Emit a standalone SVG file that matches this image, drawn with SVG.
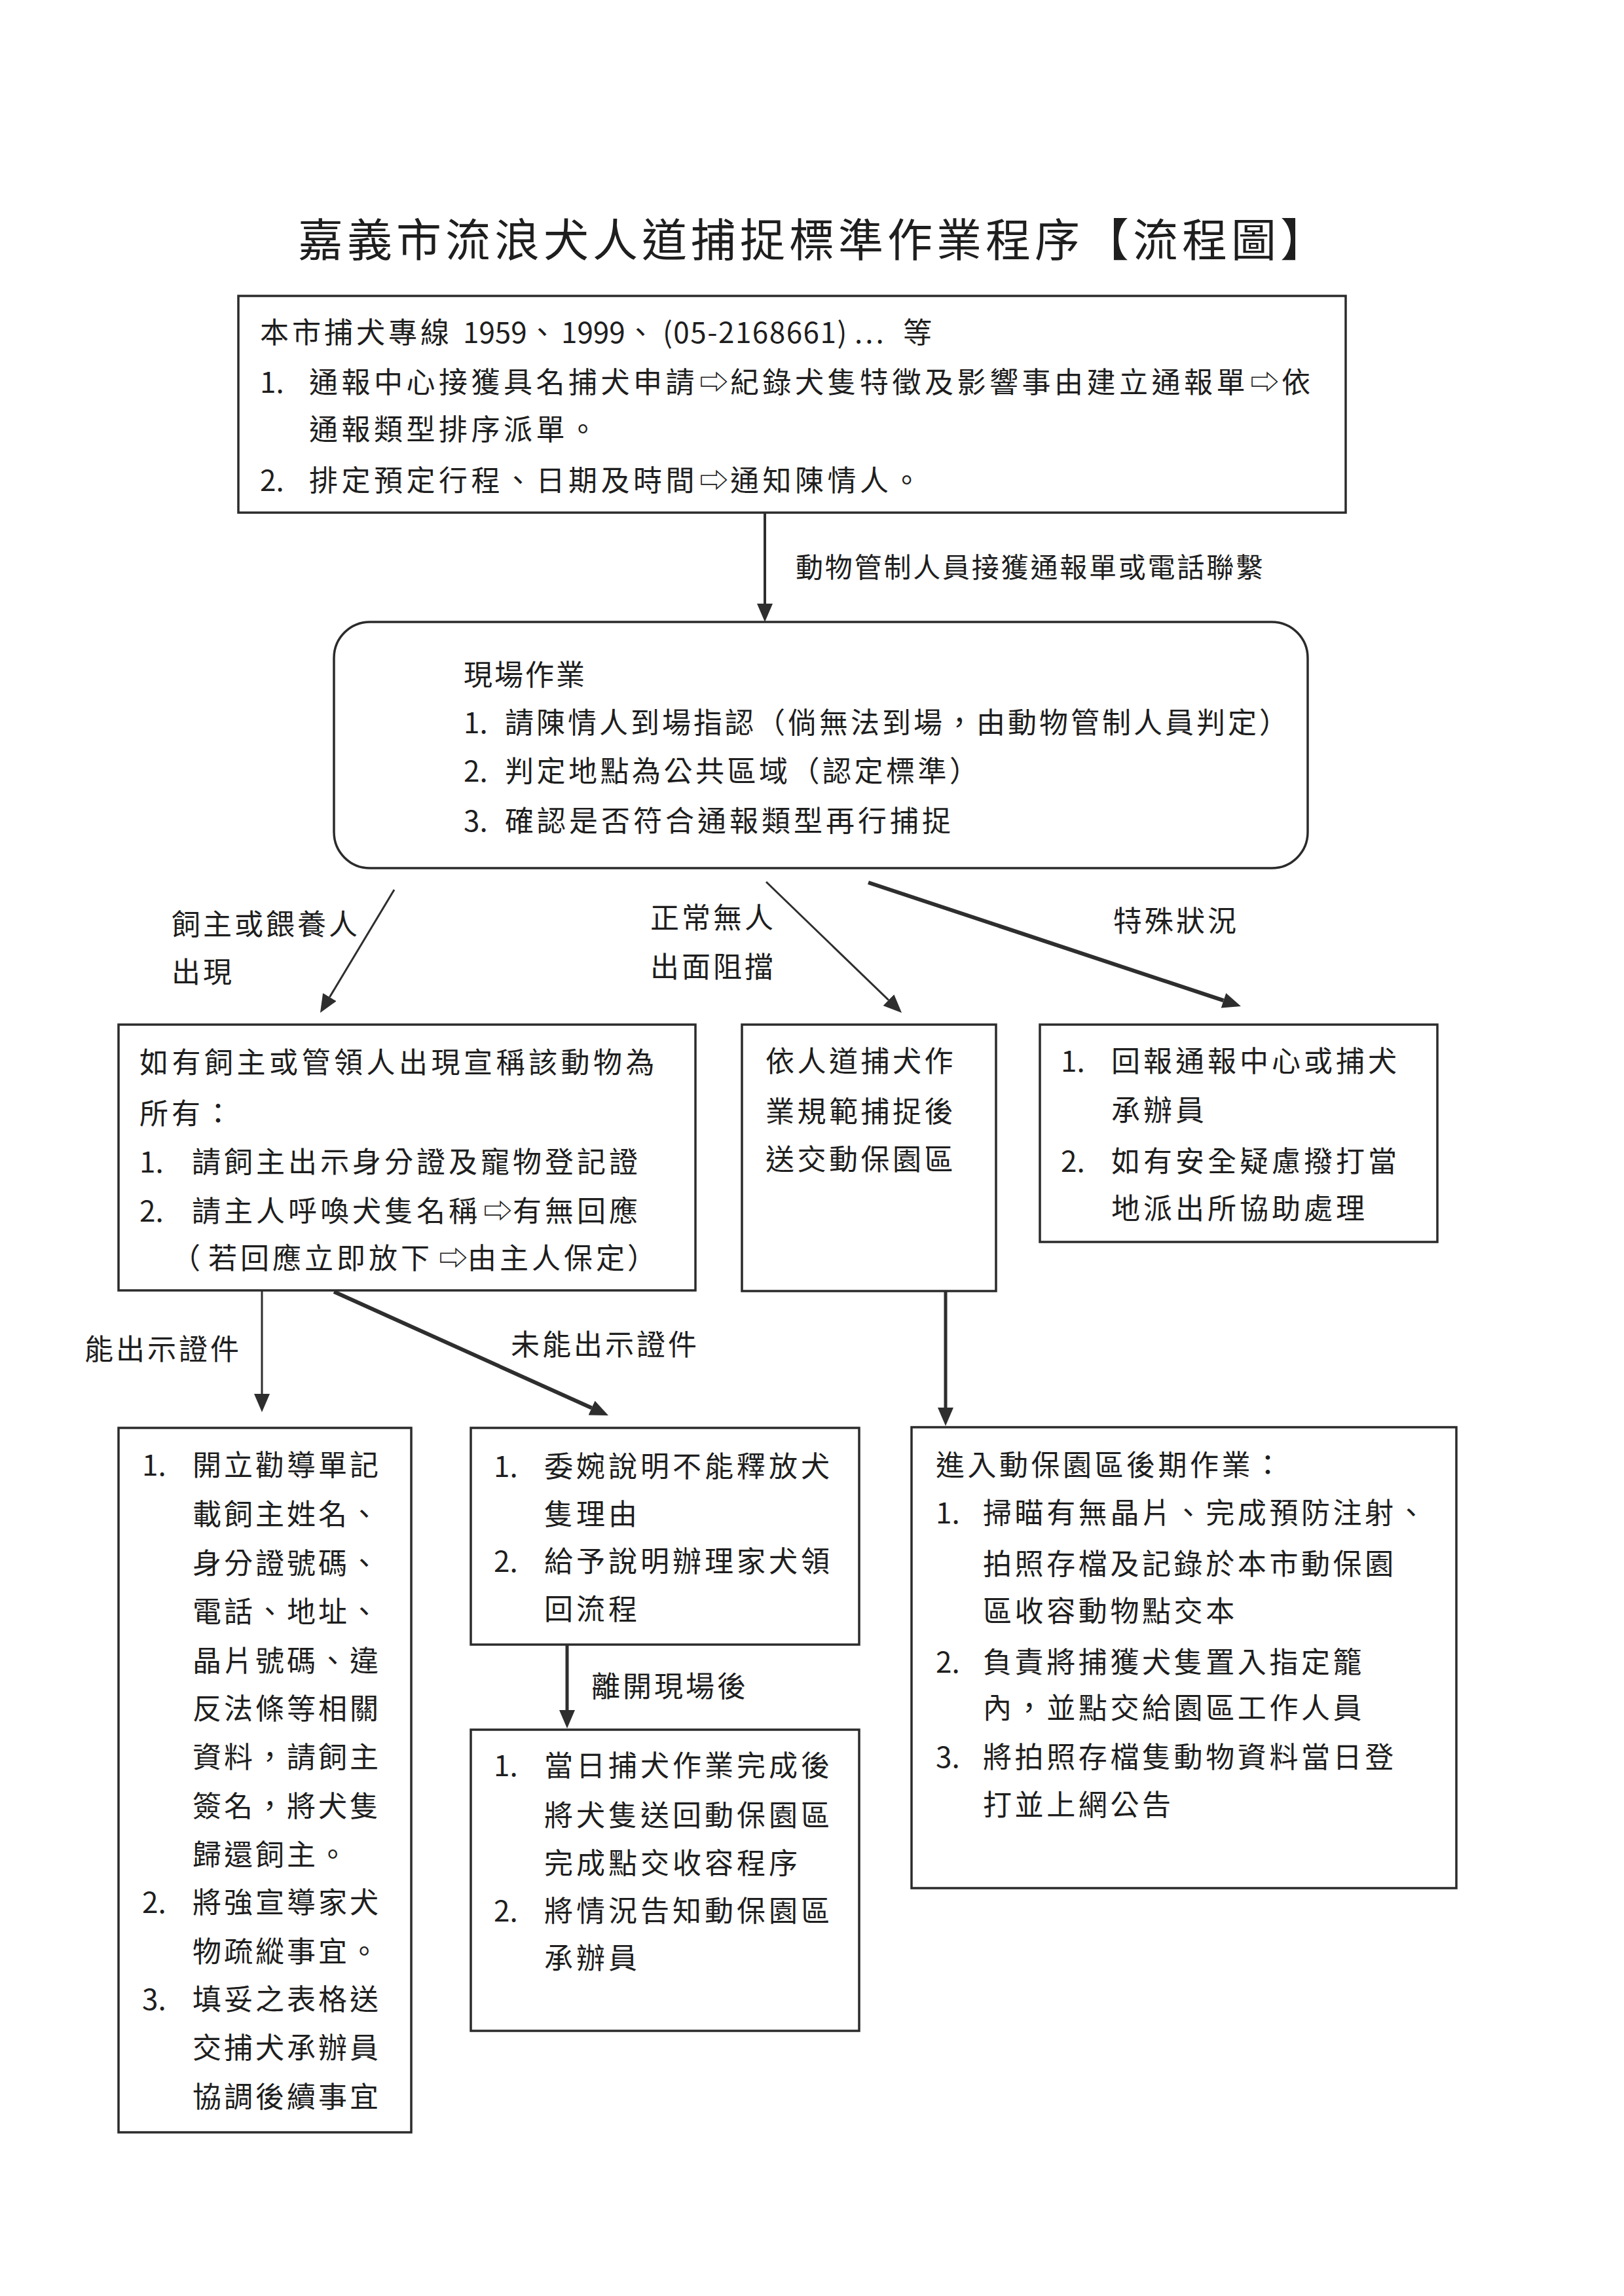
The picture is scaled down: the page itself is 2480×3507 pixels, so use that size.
<svg xmlns="http://www.w3.org/2000/svg" width="2480" height="3507" viewBox="0 0 2480 3507">
<style>
.t{font-family:"Noto Sans CJK TC","Noto Sans CJK SC","DejaVu Sans",sans-serif;font-size:44px;fill:#1e1e1e;letter-spacing:5px}
.lb{font-size:44px;letter-spacing:4px}
.n{letter-spacing:0}
.title{font-family:"Noto Sans CJK TC","Noto Sans CJK SC",sans-serif;font-size:69px;fill:#1e1e1e;letter-spacing:6px}
.box{fill:none;stroke:#2b2b2b;stroke-width:3.5}
.c line{stroke:#2e2e2e;fill:none}
</style>
<defs>
<marker id="ah" markerUnits="userSpaceOnUse" markerWidth="30" markerHeight="24" refX="0" refY="12" orient="auto" viewBox="0 0 30 24">
<path d="M0,0 L28,12 L0,24 z" fill="#2e2e2e"/>
</marker>
</defs>
<rect width="2480" height="3507" fill="#ffffff"/>

<text class="title" x="455" y="392">嘉義市流浪犬人道捕捉標準作業程序【流程圖】</text>

<g id="node-hotline">
<rect class="box" x="364" y="452" width="1691" height="331"/>
<text class="t" y="524"><tspan x="397">本市捕犬專線</tspan><tspan class="n" x="707">1959</tspan><tspan class="n" x="806">、</tspan><tspan class="n" x="857">1999</tspan><tspan class="n" x="956">、</tspan><tspan x="1012" style="letter-spacing:1.5px">(05-2168661)</tspan><tspan x="1305" style="letter-spacing:4px">...</tspan><tspan x="1379">等</tspan></text>
<text class="t" y="600"><tspan x="397" class="n">1.</tspan><tspan x="472" style="letter-spacing:5.5px">通報中心接獲具名捕犬申請</tspan><tspan x="1068" class="n">⇨</tspan><tspan x="1115" style="letter-spacing:5.5px">紀錄犬隻特徵及影響事由建立通報單</tspan><tspan x="1909" class="n">⇨</tspan><tspan x="1957">依</tspan></text>
<text class="t" y="672" x="472" style="letter-spacing:5.5px">通報類型排序派單。</text>
<text class="t" y="750"><tspan x="397" class="n">2.</tspan><tspan x="472" style="letter-spacing:5.5px">排定預定行程、日期及時間</tspan><tspan x="1068" class="n">⇨</tspan><tspan x="1115" style="letter-spacing:5.5px">通知陳情人。</tspan></text>
</g>

<g id="node-onsite">
<rect class="box" x="510" y="950" width="1487" height="376" rx="55" ry="55"/>
<text class="t" x="708" y="1047" style="letter-spacing:3px">現場作業</text>
<text class="t" y="1120"><tspan x="708" class="n">1.</tspan><tspan x="771" style="letter-spacing:4px">請陳情人到場指認（倘無法到場，由動物管制人員判定）</tspan></text>
<text class="t" y="1194"><tspan x="708" class="n">2.</tspan><tspan x="771" style="letter-spacing:4.5px">判定地點為公共區域（認定標準）</tspan></text>
<text class="t" y="1270"><tspan x="708" class="n">3.</tspan><tspan x="771">確認是否符合通報類型再行捕捉</tspan></text>
</g>

<g id="node-owner">
<rect class="box" x="181" y="1565" width="881" height="406"/>
<text class="t" x="213" y="1639" style="letter-spacing:5.5px">如有飼主或管領人出現宣稱該動物為</text>
<text class="t" x="213" y="1717">所有：</text>
<text class="t" y="1791"><tspan x="213" class="n">1.</tspan><tspan x="293">請飼主出示身分證及寵物登記證</tspan></text>
<text class="t" y="1866"><tspan x="213" class="n">2.</tspan><tspan x="293">請主人呼喚犬隻名稱</tspan><tspan x="738" class="n">⇨</tspan><tspan x="783">有無回應</tspan></text>
<text class="t" y="1938"><tspan x="262" class="n">（</tspan><tspan x="318">若回應立即放下</tspan><tspan x="670" class="n">⇨</tspan><tspan x="714">由主人保定</tspan><tspan x="958" class="n">）</tspan></text>
</g>

<g id="node-normal">
<rect class="box" x="1133" y="1565" width="388" height="407"/>
<text class="t" x="1169" y="1637" style="letter-spacing:4.5px">依人道捕犬作</text>
<text class="t" x="1169" y="1714" style="letter-spacing:4.5px">業規範捕捉後</text>
<text class="t" x="1169" y="1787" style="letter-spacing:4.5px">送交動保園區</text>
</g>

<g id="node-special">
<rect class="box" x="1588" y="1565" width="607" height="332"/>
<text class="t" y="1637"><tspan x="1620" class="n">1.</tspan><tspan x="1697">回報通報中心或捕犬</tspan></text>
<text class="t" x="1697" y="1712">承辦員</text>
<text class="t" y="1790"><tspan x="1620" class="n">2.</tspan><tspan x="1697">如有安全疑慮撥打當</tspan></text>
<text class="t" x="1697" y="1862">地派出所協助處理</text>
</g>

<g id="node-cert">
<rect class="box" x="181" y="2181" width="447" height="1076"/>
<text class="t" y="2254"><tspan x="217" class="n">1.</tspan><tspan x="294" style="letter-spacing:4px">開立勸導單記</tspan></text>
<text class="t" x="294" y="2329" style="letter-spacing:4px">載飼主姓名、</text>
<text class="t" x="294" y="2404" style="letter-spacing:4px">身分證號碼、</text>
<text class="t" x="294" y="2478" style="letter-spacing:4px">電話、地址、</text>
<text class="t" x="294" y="2553" style="letter-spacing:4px">晶片號碼、違</text>
<text class="t" x="294" y="2626" style="letter-spacing:4px">反法條等相關</text>
<text class="t" x="294" y="2700" style="letter-spacing:4px">資料，請飼主</text>
<text class="t" x="294" y="2775" style="letter-spacing:4px">簽名，將犬隻</text>
<text class="t" x="294" y="2849" style="letter-spacing:4px">歸還飼主。</text>
<text class="t" y="2922"><tspan x="217" class="n">2.</tspan><tspan x="294" style="letter-spacing:4px">將強宣導家犬</tspan></text>
<text class="t" x="294" y="2997" style="letter-spacing:4px">物疏縱事宜。</text>
<text class="t" y="3070"><tspan x="217" class="n">3.</tspan><tspan x="294" style="letter-spacing:4px">填妥之表格送</tspan></text>
<text class="t" x="294" y="3144" style="letter-spacing:4px">交捕犬承辦員</text>
<text class="t" x="294" y="3219" style="letter-spacing:4px">協調後續事宜</text>
</g>

<g id="node-nocert">
<rect class="box" x="719" y="2181" width="593" height="331"/>
<text class="t" y="2256"><tspan x="754" class="n">1.</tspan><tspan x="831">委婉說明不能釋放犬</tspan></text>
<text class="t" x="831" y="2329">隻理由</text>
<text class="t" y="2401"><tspan x="754" class="n">2.</tspan><tspan x="831">給予說明辦理家犬領</tspan></text>
<text class="t" x="831" y="2474">回流程</text>
</g>

<g id="node-return">
<rect class="box" x="719" y="2642" width="593" height="460"/>
<text class="t" y="2713"><tspan x="754" class="n">1.</tspan><tspan x="831">當日捕犬作業完成後</tspan></text>
<text class="t" x="831" y="2789">將犬隻送回動保園區</text>
<text class="t" x="831" y="2862">完成點交收容程序</text>
<text class="t" y="2935"><tspan x="754" class="n">2.</tspan><tspan x="831">將情況告知動保園區</tspan></text>
<text class="t" x="831" y="3007">承辦員</text>
</g>

<g id="node-park">
<rect class="box" x="1392" y="2180" width="832" height="704"/>
<text class="t" x="1429" y="2254" style="letter-spacing:4.5px">進入動保園區後期作業：</text>
<text class="t" y="2327"><tspan x="1429" class="n">1.</tspan><tspan x="1501" style="letter-spacing:4.6px">掃瞄有無晶片、完成預防注射、</tspan></text>
<text class="t" x="1501" y="2405" style="letter-spacing:4.6px">拍照存檔及記錄於本市動保園</text>
<text class="t" x="1501" y="2477" style="letter-spacing:4.6px">區收容動物點交本</text>
<text class="t" y="2555"><tspan x="1429" class="n">2.</tspan><tspan x="1501" style="letter-spacing:4.6px">負責將捕獲犬隻置入指定籠</tspan></text>
<text class="t" x="1501" y="2625" style="letter-spacing:4.6px">內，並點交給園區工作人員</text>
<text class="t" y="2700"><tspan x="1429" class="n">3.</tspan><tspan x="1501" style="letter-spacing:4.6px">將拍照存檔隻動物資料當日登</tspan></text>
<text class="t" x="1501" y="2773" style="letter-spacing:4.6px">打並上網公告</text>
</g>

<g id="connectors" class="c">
<line x1="1168" y1="783" x2="1168" y2="922" stroke-width="4" marker-end="url(#ah)"/>
<line x1="602" y1="1359" x2="503.4" y2="1523" stroke-width="3" marker-end="url(#ah)"/>
<line x1="1170" y1="1347" x2="1356.9" y2="1527.5" stroke-width="3" marker-end="url(#ah)"/>
<line x1="1326" y1="1348" x2="1868.4" y2="1528.2" stroke-width="6" marker-end="url(#ah)"/>
<line x1="400" y1="1972" x2="400" y2="2129" stroke-width="3" marker-end="url(#ah)"/>
<line x1="510" y1="1973" x2="903.5" y2="2150.5" stroke-width="6" marker-end="url(#ah)"/>
<line x1="1444" y1="1972" x2="1444" y2="2150" stroke-width="5" marker-end="url(#ah)"/>
<line x1="866" y1="2512" x2="866" y2="2612" stroke-width="5" marker-end="url(#ah)"/>
<text class="t" x="1215" y="882" style="font-size:42px;letter-spacing:2.8px">動物管制人員接獲通報單或電話聯繫</text>
<text class="t lb" x="262" y="1428">飼主或餵養人</text>
<text class="t lb" x="262" y="1501">出現</text>
<text class="t lb" x="993" y="1418">正常無人</text>
<text class="t lb" x="993" y="1493">出面阻擋</text>
<text class="t lb" x="1700" y="1423">特殊狀況</text>
<text class="t lb" x="129" y="2077">能出示證件</text>
<text class="t lb" x="780" y="2070">未能出示證件</text>
<text class="t lb" x="903" y="2592">離開現場後</text>
</g>
</svg>
